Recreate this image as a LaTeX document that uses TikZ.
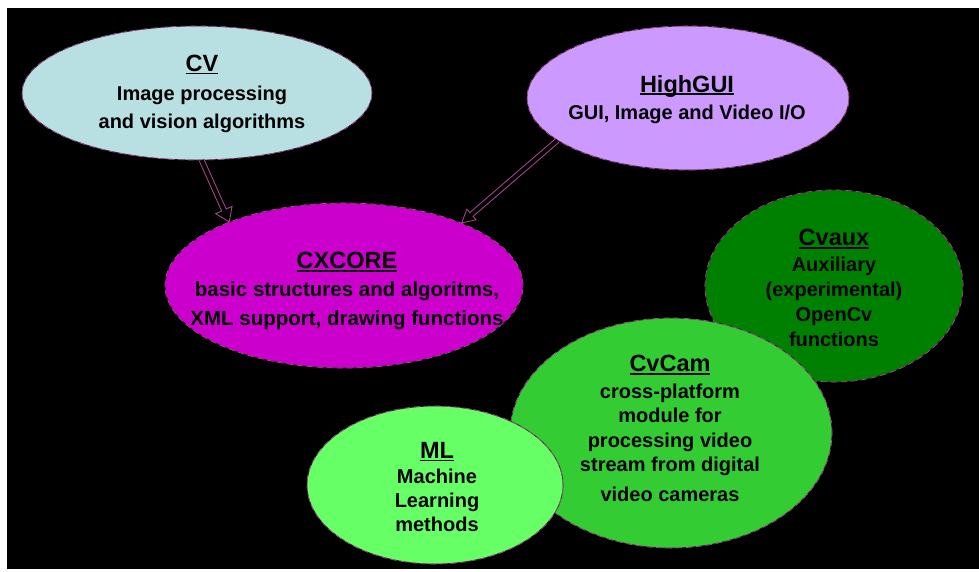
\documentclass[tikz,border=0pt]{standalone}
\usepackage{fontspec}
\setmainfont{Liberation Sans}
\usetikzlibrary{shapes.geometric,calc}

\definecolor{cvfill}{HTML}{B8E0E3}
\definecolor{hgfill}{HTML}{CC99FF}
\definecolor{cxfill}{HTML}{CC00CC}
\definecolor{auxfill}{HTML}{008000}
\definecolor{camfill}{HTML}{33CC33}
\definecolor{mlfill}{HTML}{66FF66}
\definecolor{rim}{HTML}{B04A94}
\definecolor{rimdark}{HTML}{2A1A26}

\tikzset{
  blob/.style={ellipse, inner sep=0pt, draw=rimdark, line width=0.7pt,
    postaction={draw=rim, line width=0.7pt, dash pattern=on 6pt off 4pt}},
  caption/.style={align=center, anchor=north, inner sep=0pt, text=black,
    font=\bfseries\fontsize{20}{#1}\selectfont},
  hollow/.style={draw=rim, line width=0.8pt, fill=black, line join=miter},
}

% underlined module title
\newcommand\ttl[1]{{\fontsize{23.5}{24}\selectfont\setbox0\hbox{#1}\rlap{\rule[-3pt]{\wd0}{1.8pt}}\box0}}

% outlined block arrow: from, tip, half shaft width, half head width
\newcommand\hollowarrow[4]{%
  \coordinate (hb) at ($(#2)!13pt!(#1)$);
  \draw[hollow] ($(#1)!#3!90:(#2)$) -- ($(hb)!#3!90:(#2)$) -- ($(hb)!#4!90:(#2)$)
    -- (#2) -- ($(hb)!#4!-90:(#2)$) -- ($(hb)!#3!-90:(#2)$) -- ($(#1)!#3!-90:(#2)$);
}

\begin{document}
\begin{tikzpicture}[x=1pt, y=-1pt]
  \useasboundingbox (0,0) rectangle (979,571);
  \fill[white] (0,0) rectangle (979,571);
  \fill[black] (7,8) rectangle (979,569);

  % modules
  \node[blob, fill=cvfill, minimum width=350pt, minimum height=134pt] (cv) at (197,93) {};
  \node[blob, fill=hgfill, minimum width=322pt, minimum height=144pt] (hg) at (688,98) {};
  \node[blob, fill=cxfill, minimum width=358pt, minimum height=165pt] (cx) at (344,285.5) {};
  \node[blob, fill=auxfill, minimum width=258pt, minimum height=192pt] (aux) at (834,286) {};
  \node[blob, fill=camfill, minimum width=322pt, minimum height=230pt] (cam) at (671,433) {};
  \node[blob, fill=mlfill, minimum width=256pt, minimum height=158pt] (ml) at (435,485) {};

  % descriptions
  \node[caption=28] (cvtext) at (202,54.7) {\ttl{CV}\\[1.5pt] Image processing\\ and vision algorithms};
  \node[caption=28] (hgtext) at (687,75) {\ttl{HighGUI}\\[-1pt] GUI, Image and Video I/O};
  \node[caption=29, font=\bfseries\fontsize{20.5}{29}\selectfont] (cxtext) at (347,252) {\ttl{CXCORE}\\[-1.5pt] basic structures and algoritms,\\ XML support, drawing functions};
  \node[caption=25] (auxtext) at (834,229) {\ttl{Cvaux}\\[1pt] Auxiliary\\ (experimental)\\ OpenCv\\ functions};
  \node[caption=24.5] (camtext) at (670,355) {\ttl{CvCam}\\[2pt] cross-platform\\ module for\\ processing video\\ stream from digital\\[5.5pt] video cameras};
  \node[caption=24] (mltext) at (437,442) {\ttl{ML}\\[1pt] Machine\\ Learning\\ methods};

  % dependencies on the core
  \hollowarrow{cv.274}{cx.151}{2.5pt}{9pt}
  \hollowarrow{hg.198}{cx.28}{2.5pt}{7pt}
\end{tikzpicture}
\end{document}
